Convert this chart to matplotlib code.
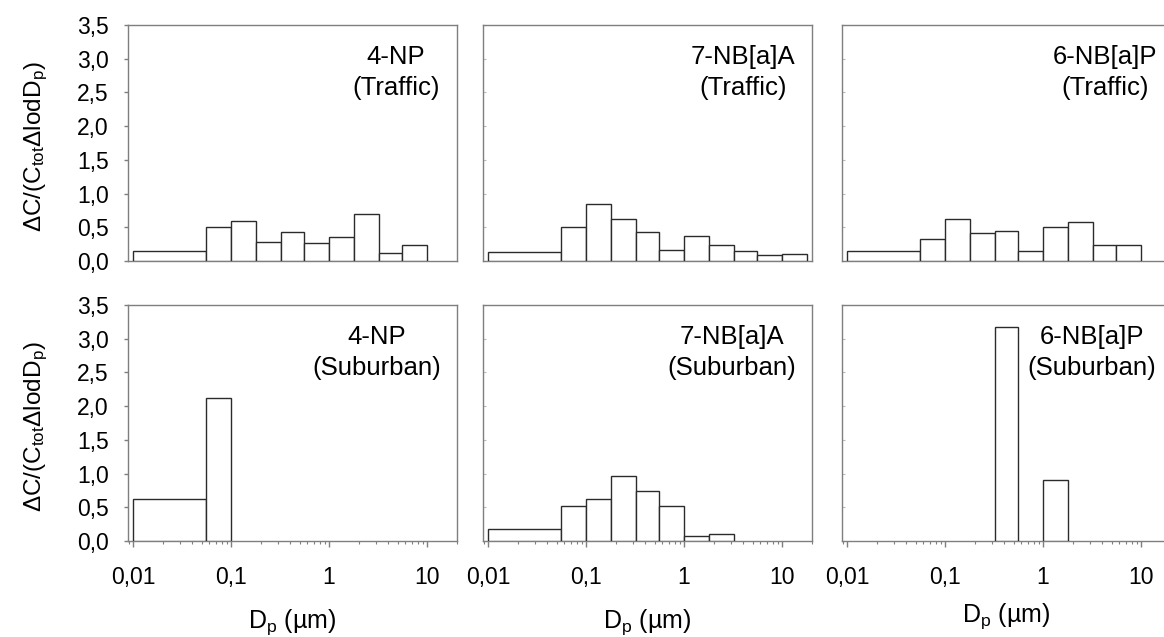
import numpy as np
import matplotlib
matplotlib.use("Agg")
import matplotlib.pyplot as plt
from matplotlib.ticker import FixedLocator, FuncFormatter, LogLocator, NullFormatter, NullLocator

plt.rcParams['font.family'] = ['Liberation Sans', 'DejaVu Sans']
plt.rcParams['mathtext.fontset'] = 'custom'
plt.rcParams['mathtext.rm'] = 'Liberation Sans'
plt.rcParams['mathtext.it'] = 'Liberation Sans'

# Impactor stage edges (µm)
edges = [0.01, 0.056, 0.1, 0.18, 0.32, 0.56, 1.0, 1.8, 3.2, 5.6, 10.0, 18.0]

np_traffic    = [0.15, 0.51, 0.60, 0.28, 0.43, 0.26, 0.35, 0.70, 0.12, 0.24, 0.0]
nba_traffic   = [0.14, 0.50, 0.85, 0.62, 0.43, 0.16, 0.37, 0.24, 0.15, 0.09, 0.11]
nbp_traffic   = [0.15, 0.32, 0.63, 0.41, 0.44, 0.15, 0.50, 0.58, 0.23, 0.23, 0.0]
np_suburban   = [0.62, 2.12, 0.0, 0.0, 0.0, 0.0, 0.0, 0.0, 0.0, 0.0, 0.0]
nba_suburban  = [0.18, 0.52, 0.63, 0.96, 0.74, 0.52, 0.08, 0.11, 0.0, 0.0, 0.0]
nbp_suburban  = [0.0, 0.0, 0.0, 0.0, 3.18, 0.0, 0.90, 0.0, 0.0, 0.0, 0.0]

compounds = ["4-NP", "7-NB[a]A", "6-NB[a]P"]
sites = ["(Traffic)", "(Suburban)"]
series = [[np_traffic, nba_traffic, nbp_traffic],
          [np_suburban, nba_suburban, nbp_suburban]]

xtick_vals = [0.01, 0.1, 1, 10]
xtick_labels = ["0,01", "0,1", "1", "10"]
yticks = [0.0, 0.5, 1.0, 1.5, 2.0, 2.5, 3.0, 3.5]

W, H = 1164, 637
fig = plt.figure(figsize=(W / 100, H / 100), dpi=100)

lefts = [128, 483, 842]
width_px = 329
tops = [25, 305]
height_px = 236
label_x = [[0.815, 0.79, 0.80], [0.757, 0.757, 0.76]]
xlabel_pads = [13, 13, 9]

spine_col = "#7f7f7f"
edge_col = "#2b2b2b"
left_e = np.array(edges[:-1])
right_e = np.array(edges[1:])

for r in range(2):
    for c in range(3):
        ax = fig.add_axes([lefts[c] / W, (H - tops[r] - height_px) / H,
                           width_px / W, height_px / H])
        ax.set_xscale('log')
        vals = np.array(series[r][c])
        m = vals > 0
        ax.bar(left_e[m], vals[m], width=(right_e - left_e)[m], align='edge',
               color='white', edgecolor=edge_col, linewidth=1.0, zorder=3)
        ax.set_xlim(0.00887, 20.2)
        ax.set_ylim(0, 3.5)
        for s in ax.spines.values():
            s.set_color(spine_col)
            s.set_linewidth(1.0)
        ax.yaxis.set_major_locator(FixedLocator(yticks))
        if c == 0:
            ax.yaxis.set_major_formatter(FuncFormatter(lambda v, p: f"{v:.1f}".replace('.', ',')))
            ax.tick_params(axis='y', direction='out', length=3, width=1,
                           labelsize=16.5, pad=11, labelcolor='black', color=spine_col)
        else:
            ax.yaxis.set_major_formatter(NullFormatter())
            ax.tick_params(axis='y', direction='in', length=2, width=0.8, color='#bbbbbb')
        if r == 1:
            ax.xaxis.set_major_locator(FixedLocator(xtick_vals))
            ax.set_xticklabels(xtick_labels)
            ax.xaxis.set_minor_locator(LogLocator(base=10, subs=np.arange(2, 10), numticks=20))
            ax.xaxis.set_minor_formatter(NullFormatter())
            ax.tick_params(axis='x', which='major', direction='out', length=4, width=1,
                           color=spine_col, labelsize=16.5, pad=14)
            ax.tick_params(axis='x', which='minor', direction='out', length=2.5, width=0.8,
                           color=spine_col)
            ax.set_xlabel(r"D$_{\rm p}$ (µm)", fontsize=18, labelpad=xlabel_pads[c])
        else:
            ax.xaxis.set_major_locator(NullLocator())
            ax.xaxis.set_minor_locator(NullLocator())
        ax.text(label_x[r][c], 0.864, compounds[c], transform=ax.transAxes,
                ha='center', va='center', fontsize=18.5)
        ax.text(label_x[r][c], 0.733, sites[r], transform=ax.transAxes,
                ha='center', va='center', fontsize=18.5)

for r in range(2):
    yc = (H - tops[r] - height_px / 2 - 4) / H
    fig.text(36 / W, yc, r"ΔC/(C$_{\rm tot}$ΔlodD$_{\rm p}$)", rotation=90,
             ha='center', va='center', fontsize=17.5)

fig.savefig("out.png", dpi=100)
